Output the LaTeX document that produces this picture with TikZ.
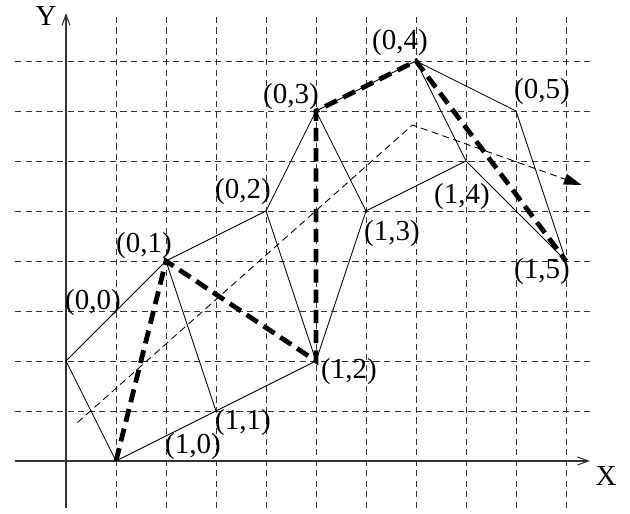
\documentclass[tikz,border=0pt]{standalone}
\usepackage{fontspec}
\setmainfont{Liberation Serif}
\usetikzlibrary{arrows.meta,calc}
\tikzset{
  figgrid/.style={black!80, line width=0.5pt, dash pattern=on 3.5pt off 2.5pt},
  figaxis/.style={black!80, line width=0.6pt, -{Straight Barb[length=2.2mm,width=1.6mm]}},
  figedge/.style={line width=0.5pt},
  figpath/.style={line width=2.7pt, dash pattern=on 7.5pt off 4pt},
  figflow/.style={line width=0.5pt, dash pattern=on 4pt off 2.5pt, -{Triangle[length=3.5mm,width=2.2mm]}},
  figlabel/.style={font=\fontsize{16.5}{18}\selectfont, inner sep=0pt},
}

\begin{document}
\begin{tikzpicture}
  \useasboundingbox (-1.32,-1.06) rectangle (11.28,9.22);
  % grid
  \foreach \x in {1,...,10}
    \draw[figgrid] (\x,-0.94) -- (\x,8.9);
  \foreach \y in {1,...,8}
    \draw[figgrid] (-1.02,\y) -- (10.48,\y);
  % axes
  \coordinate (xfrom) at (-1.02,0);
  \coordinate (xto) at (10.48,0);
  \coordinate (yfrom) at (0,-0.94);
  \coordinate (yto) at (0,8.96);
  \draw[figaxis] (xfrom) -- (xto);
  \draw[figaxis] (yfrom) -- (yto);
  \node[figlabel] (xlab) at (10.8,-0.3) {X};
  \node[figlabel] (ylab) at (-0.4,8.9) {Y};
  % points
  \coordinate (a0) at (0,2);
  \coordinate (b0) at (1,0);
  \coordinate (a1) at (2,4);
  \coordinate (b1) at (3,1);
  \coordinate (a2) at (4,5);
  \coordinate (b2) at (5,2);
  \coordinate (a3) at (5,7);
  \coordinate (b3) at (6,5);
  \coordinate (a4) at (7,8);
  \coordinate (b4) at (8,6);
  \coordinate (a5) at (9,7);
  \coordinate (b5) at (10,4);
  % mesh
  \draw[figedge] (a0) -- (a1) -- (a2) -- (a3) -- (a4) -- (a5);
  \draw[figedge] (b0) -- (b1) -- (b2) -- (b3) -- (b4) -- (b5);
  \foreach \i in {0,...,5}
    \draw[figedge] (a\i) -- (b\i);
  % path through the strip
  \draw[figpath] (b0) -- (a1) -- (b2) -- (a3) -- (a4) -- (b5);
  % direction
  \coordinate (fstart) at (0.23,0.77);
  \coordinate (fbend) at (6.93,6.72);
  \coordinate (fend) at (10.31,5.52);
  \draw[figflow] (fstart) -- (fbend) -- (fend);
  % labels
  \node[figlabel] (la0) at ($(a0)+(0.54,1.16)$) {(0,0)};
  \node[figlabel] (lb0) at ($(b0)+(1.54,0.28)$) {(1,0)};
  \node[figlabel] (la1) at ($(a1)+(-0.44,0.30)$) {(0,1)};
  \node[figlabel] (lb1) at ($(b1)+(0.54,-0.24)$) {(1,1)};
  \node[figlabel] (la2) at ($(a2)+(-0.46,0.38)$) {(0,2)};
  \node[figlabel] (lb2) at ($(b2)+(0.66,-0.22)$) {(1,2)};
  \node[figlabel] (la3) at ($(a3)+(-0.50,0.28)$) {(0,3)};
  \node[figlabel] (lb3) at ($(b3)+(0.52,-0.46)$) {(1,3)};
  \node[figlabel] (la4) at ($(a4)+(-0.32,0.36)$) {(0,4)};
  \node[figlabel] (lb4) at ($(b4)+(-0.08,-0.72)$) {(1,4)};
  \node[figlabel] (la5) at ($(a5)+(0.52,0.38)$) {(0,5)};
  \node[figlabel] (lb5) at ($(b5)+(-0.48,-0.22)$) {(1,5)};
\end{tikzpicture}
\end{document}
